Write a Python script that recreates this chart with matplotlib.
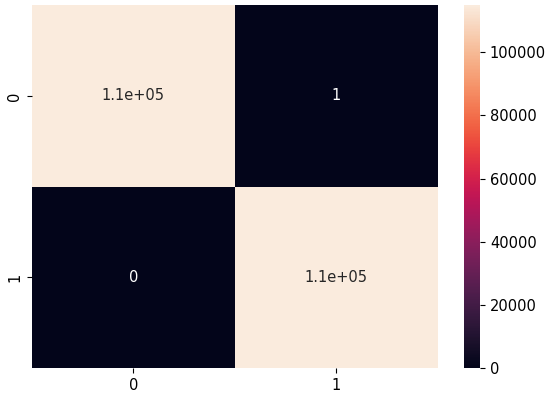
import numpy as np
import matplotlib
matplotlib.use("Agg")
import matplotlib.pyplot as plt
import seaborn as sns

labels = [0, 1]
cm_values = np.array([[114900, 1],
                      [0, 114600]])

fig = plt.figure(figsize=(5.5, 4.01), dpi=100)
ax = fig.add_axes([0.058, 0.082, 0.738, 0.905])
cax = fig.add_axes([0.844, 0.082, 0.029, 0.905])

sns.heatmap(cm_values, annot=True, ax=ax, cbar_ax=cax,
            xticklabels=labels, yticklabels=labels,
            annot_kws={"fontsize": 10.5})
ax.tick_params(labelsize=10.5)
cax.tick_params(labelsize=10.5)

fig.savefig("out.png", dpi=100)
